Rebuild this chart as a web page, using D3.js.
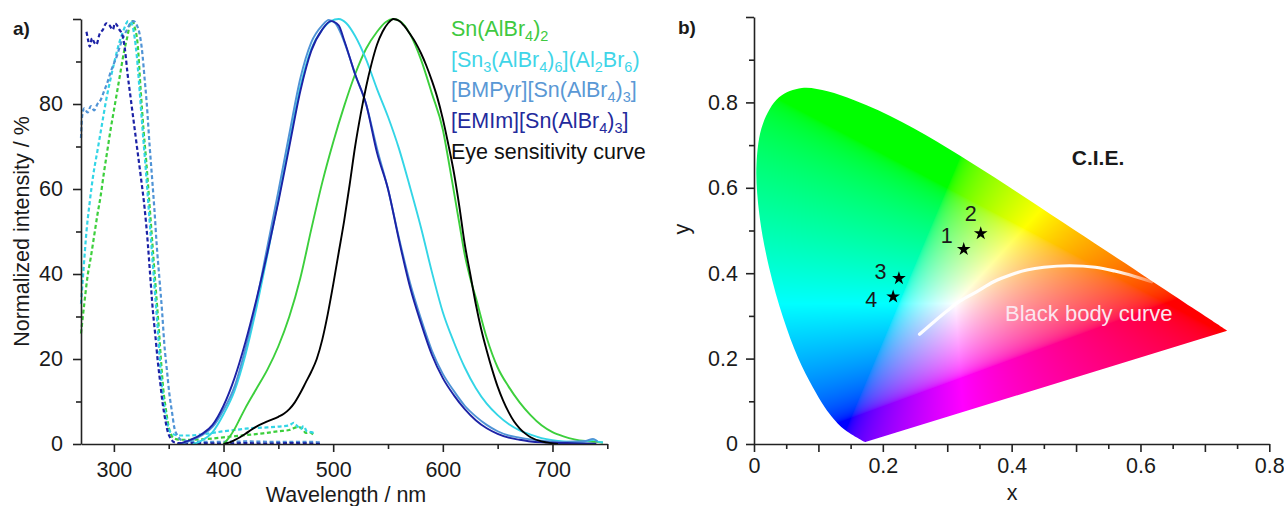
<!DOCTYPE html>
<html><head><meta charset="utf-8">
<script src="https://cdn.jsdelivr.net/npm/d3@7"></script>
<style>
body{margin:0;background:#fff}
svg{display:block}
text{font-family:"Liberation Sans",Arial,Helvetica,sans-serif;fill:#1a1a1a}
</style></head>
<body><svg id="c" width="1284" height="506"></svg>
<script>
// ---------- Panel a data: [wavelength nm, normalized intensity %] ----------
const emSnAlBr4 = [[400,0],[405,1.5],[410,3.5],[415,6],[420,8.5],[430,13],[440,17.5],[450,23],[460,30],[470,39],[480,50.5],[490,61.5],[500,71],[510,79.5],[520,87],[530,93],[540,97],[548,99.3],[555,100],[562,99.3],[570,96.5],[580,90.5],[590,82.5],[600,74],[605,67],[610,59.5],[615,52],[620,44.5],[625,39],[630,34.5],[640,25],[650,18],[660,13.5],[670,9.8],[680,6.8],[690,4.4],[700,2.8],[710,1.8],[720,1.1],[730,0.7],[740,0.5],[746,0.3]];
const emSn3 = [[372,0],[380,0.8],[390,2.8],[400,7],[410,12.5],[420,21],[430,32],[440,44.5],[450,57.5],[460,71],[470,84],[480,93],[490,97.5],[498,99.5],[505,100],[512,99],[520,96],[530,90.5],[540,83.5],[550,77],[560,69.5],[570,60.5],[580,51],[590,40.5],[600,31],[610,24],[620,18],[630,13.2],[640,9.5],[650,6.8],[660,4.7],[670,3.2],[680,2.2],[690,1.4],[700,0.9],[710,0.6],[720,0.5],[730,0.6],[738,1],[742,0.5],[746,0.4]];
const emBMPyr = [[362,0],[370,0.8],[380,2],[390,4],[400,8],[410,13.5],[420,22.5],[430,33.5],[440,46.5],[450,59.5],[460,73],[470,86],[480,94.5],[490,98.5],[496,99.8],[502,99],[508,96],[515,91],[520,87],[530,80],[540,69.5],[550,60],[560,48.5],[570,38],[580,29.5],[590,22],[600,16.5],[610,12.5],[620,9],[630,6.5],[640,4.5],[650,3],[660,2],[670,1.5],[680,1.1],[690,0.8],[700,0.6],[710,0.5],[720,0.6],[730,0.7],[737,1.2],[741,0.6]];
const emEMIm = [[358,0],[365,0.5],[370,1],[380,2.3],[390,4.5],[400,9],[410,15.5],[420,24],[430,34],[440,45],[450,57],[460,70],[470,83],[480,92.5],[490,97.5],[498,99.5],[505,98.5],[510,95],[520,87],[530,80],[540,68.5],[550,60],[560,48],[570,37],[580,28.5],[590,21],[600,15.5],[610,11.5],[620,8.2],[630,5.6],[640,3.7],[650,2.4],[660,1.5],[670,1],[680,0.6],[690,0.4],[700,0.3],[720,0.2],[740,0.1]];
const eyeCurve = [[400,0],[405,0.3],[410,0.9],[415,1.6],[420,2.4],[425,3.3],[430,4.1],[440,5.3],[450,6.4],[455,7.1],[460,8.2],[465,9.8],[470,12],[475,14.5],[480,17],[485,20],[490,24.5],[495,30.5],[500,37.5],[505,45],[510,52.5],[515,61],[520,70],[525,77.5],[530,84],[535,89.5],[540,94],[545,97],[550,99],[555,100],[560,99.6],[565,98.3],[570,96.5],[575,94.5],[580,92],[585,89],[590,85.5],[595,81.5],[600,76.5],[605,70.5],[610,64],[615,56],[620,47],[625,40],[630,33],[635,27],[640,22],[645,17.5],[650,13.5],[655,10.2],[660,7.5],[665,5.3],[670,3.7],[675,2.5],[680,1.6],[690,0.6],[700,0.15],[705,0]];
const exSnAlBr4 = [[270,26],[273,33],[276,39.5],[279,44],[282,49],[285,54],[288,58.5],[291,64],[294,69],[297,74],[300,78.5],[303,83],[306,87.5],[309,92],[312,95.5],[315,99],[317,99.5],[319,98],[321.5,94.5],[324.5,83],[327,74],[329.5,66.5],[332,58],[334,51],[336,44],[338.5,35.5],[341,27],[343,19.5],[345,13],[347.5,8],[350,4],[352,2.3],[355,1.3],[360,1],[370,1],[380,1.1],[390,1.3],[405,1.7],[420,2.1],[436,2.5],[450,3],[460,3.3],[468,4],[472,3.6],[475,2.6],[478,2.8],[482,2.2]];
const exSn3 = [[270,33],[272,40],[275,50],[278,57],[281,63],[285,69],[289,75],[293,81],[297,86],[301,90.5],[305,94.5],[309,97.5],[313,99.5],[316,99],[319,95.5],[321,91],[323.5,83],[326,74.5],[328.5,66.5],[331,58],[333,51],[335,44],[337.5,35.5],[340,27],[342,19.5],[344,13],[346.5,8],[349,4.5],[351,3],[354,2.3],[360,2],[370,2],[380,2.3],[390,2.6],[400,3],[410,3.3],[420,3.6],[430,3.8],[440,3.9],[450,4.1],[460,4.4],[464,5],[467,4.3],[470,3.5],[473,4.2],[476,3],[480,2.8],[483,2.5]];
const exBMPyr = [[270,72],[271,77],[273,79],[276,78],[279,79.5],[282,78.5],[285,80],[288,81],[291,83],[294,85],[297,87.5],[300,89.5],[303,91.5],[306,94],[309,96],[312,97.5],[315,99],[318,99.5],[321,98.5],[323,97],[325.5,93],[328,86],[330,80],[332.5,70.5],[335,62],[337,55],[339,47],[341.5,39],[344,31],[346,23.5],[348.5,17],[350.5,12],[353,7.5],[355,4],[358,2],[361,1],[370,0.6],[390,0.5],[420,0.6],[450,0.5],[480,0.5],[490,0.3]];
const exEMIm = [[275,97],[276.5,95],[278,93.5],[280,95.5],[282,94.5],[284,94],[287,96.5],[290,97.5],[293,99],[296,98.5],[299,97.5],[301,99],[305,97.5],[308,96],[310,93],[312.5,87],[315,82],[318.5,75],[321,70],[324.5,63],[328,55.5],[331,47],[333,40],[335.5,31.5],[338,25],[340,19.5],[342,15],[344.5,9.5],[347,5.5],[349,3],[352,1.2],[355,0.4],[360,0.2],[380,0.2],[400,0.1],[420,0.2],[440,0.1],[460,0.2],[480,0.1],[490,0]];

const wlTicks = [300,350,400,450,500,550,600,650,700,750];
const intTicks = [0,10,20,30,40,50,60,70,80,90,100];

// legend labels: segments [text, isSubscript]
const legendLabels = [
  [["Sn(AlBr",0],["4",1],[")",0],["2",1]],
  [["[Sn",0],["3",1],["(AlBr",0],["4",1],[")",0],["6",1],["](Al",0],["2",1],["Br",0],["6",1],[")",0]],
  [["[BMPyr][Sn(AlBr",0],["4",1],[")",0],["3",1],["]",0]],
  [["[EMIm][Sn(AlBr",0],["4",1],[")",0],["3",1],["]",0]],
  [["Eye sensitivity curve",0]]
];

// ---------- Panel b data ----------
// CIE 1931 spectral locus (x, y)
const locusX = [0.1741,0.1738,0.1733,0.1726,0.1714,0.1703,0.1689,0.1669,0.1644,0.1611,0.1566,0.1510,0.1440,0.1355,0.1241,0.1096,0.0913,0.0687,0.0454,0.0235,0.0082,0.0039,0.0139,0.0389,0.0743,0.1142,0.1547,0.1929,0.2296,0.2658,0.3016,0.3373,0.3731,0.4087,0.4441,0.4788,0.5125,0.5448,0.5752,0.6029,0.6270,0.6482,0.6658,0.6801,0.6915,0.7006,0.7079,0.7140,0.7190,0.7230,0.7260,0.7283,0.7300,0.7311,0.7320,0.7334,0.7347];
const locusY = [0.0050,0.0049,0.0048,0.0048,0.0051,0.0058,0.0069,0.0086,0.0109,0.0138,0.0177,0.0227,0.0297,0.0399,0.0578,0.0868,0.1327,0.2007,0.2950,0.4127,0.5384,0.6548,0.7502,0.8120,0.8338,0.8262,0.8059,0.7816,0.7543,0.7243,0.6923,0.6589,0.6245,0.5896,0.5547,0.5202,0.4866,0.4544,0.4242,0.3965,0.3725,0.3514,0.3340,0.3197,0.3083,0.2993,0.2920,0.2859,0.2809,0.2770,0.2740,0.2717,0.2700,0.2689,0.2680,0.2666,0.2653];
// black body curve
const bbX = [0.257,0.28,0.30,0.32,0.346,0.372,0.40,0.4235,0.45,0.49,0.53,0.56,0.59,0.6175];
const bbY = [0.257,0.287,0.312,0.335,0.357,0.380,0.397,0.4075,0.414,0.4175,0.414,0.405,0.393,0.380];
// sample points
const sampleIds = ["1","2","3","4"];
const sampleX = [0.3256,0.352,0.225,0.216];
const sampleY = [0.456,0.493,0.388,0.345];
const labelOffsets = [[-17,-6],[-10,-12],[-18.5,1],[-22,10]];

const cieXTicks = d3.range(0,17).map(i=>+(i*0.05).toFixed(2));
const cieYTicks = d3.range(0,11).map(i=>+(i*0.1).toFixed(1));

// ---------- drawing ----------
const svg = d3.select("#c");
const FS = 21.5;

// Panel a
const xA = d3.scaleLinear().domain([270,750]).range([81,607.3]);
const yA = d3.scaleLinear().domain([0,100]).range([444,19]);
const lineA = d3.line().x(d=>xA(d[0])).y(d=>yA(d[1])).curve(d3.curveMonotoneX);

const colGreen="#3ccf3c", colCyan="#33d5e6", colLBlue="#4f93d6", colDBlue="#1c22a6";

const dashed = [[exSnAlBr4,colGreen],[exSn3,colCyan],[exBMPyr,colLBlue],[exEMIm,colDBlue]];
dashed.forEach(([d,c])=>{
  svg.append("path").attr("d",lineA(d)).attr("fill","none").attr("stroke",c)
    .attr("stroke-width",2.2).attr("stroke-dasharray","4,2.6");
});
const solids = [[emSnAlBr4,colGreen],[emSn3,colCyan],[emBMPyr,colLBlue],[emEMIm,colDBlue],[eyeCurve,"#000"]];
solids.forEach(([d,c])=>{
  svg.append("path").attr("d",lineA(d)).attr("fill","none").attr("stroke",c)
    .attr("stroke-width",1.9).attr("stroke-linejoin","round");
});

function styleAxis(g, minorTest, minorLen, horiz){
  g.select(".domain").attr("stroke","#222").attr("stroke-width",1.6);
  g.selectAll(".tick line").attr("stroke","#222").attr("stroke-width",1.6);
  g.selectAll(".tick").filter(minorTest).select("line").attr(horiz?"y2":"x2", minorLen);
  g.selectAll(".tick text").attr("font-size",FS).attr("fill","#1a1a1a")
   .attr("font-family","'Liberation Sans',Arial,sans-serif");
}
const gxA = svg.append("g").attr("transform","translate(0,444)")
  .call(d3.axisBottom(xA).tickValues(wlTicks).tickFormat(d=>d%100===0?d:"").tickSize(8).tickSizeOuter(0).tickPadding(9.5));
styleAxis(gxA, d=>d%100!==0, 5, true);
const gyA = svg.append("g").attr("transform","translate(81,0)")
  .call(d3.axisLeft(yA).tickValues(intTicks).tickFormat(d=>(d%20===0&&d<100)?d:"").tickSize(8).tickSizeOuter(0).tickPadding(10));
styleAxis(gyA, d=>d%20!==0, -5, false);

svg.append("text").attr("x",346).attr("y",502).attr("text-anchor","middle").attr("font-size",FS).text("Wavelength / nm");
svg.append("text").attr("transform","translate(28.7,231.5) rotate(-90)").attr("text-anchor","middle").attr("font-size",FS).text("Normalized intensity / %");
svg.append("text").attr("x",13).attr("y",35).attr("font-size",19).attr("font-weight","bold").text("a)");

// legend
const legColors = ["#40c940","#3fd5e8","#5a98d5","#232a9c","#111"];
legendLabels.forEach((segs,i)=>{
  const t = svg.append("text").attr("x",451).attr("y",36+i*30.65).attr("font-size",FS).style("fill",legColors[i]);
  segs.forEach(([s,sub])=>{
    const ts = t.append("tspan").text(s).style("fill",legColors[i]);
    if(sub){ ts.attr("font-size",14.5).attr("baseline-shift","-30%"); }
  });
});

// Panel b
const xC = d3.scaleLinear().domain([0,0.8]).range([754,1269.3]);
const yC = d3.scaleLinear().domain([0,1]).range([444,17]);

const locusPts = locusX.map((x,i)=>[x,locusY[i]]);
const lineC = d3.line().x(d=>xC(d[0])).y(d=>yC(d[1])).curve(d3.curveCatmullRom.alpha(0.5));
const defs = svg.append("defs");
defs.append("clipPath").attr("id","locusClip").append("path").attr("d",lineC(locusPts)+"Z");

// colour field
const x0 = Math.floor(xC(0)), x1 = Math.ceil(xC(0.75));
const y0 = Math.floor(yC(0.85)), y1 = Math.ceil(yC(0));
const cw = x1-x0, ch = y1-y0;
const canvas = document.createElement("canvas");
canvas.width = cw; canvas.height = ch;
const ctx = canvas.getContext("2d");
const img = ctx.createImageData(cw,ch);
function gam(v){ return v<=0.0031308 ? 12.92*v : 1.055*Math.pow(v,1/2.4)-0.055; }
for(let j=0;j<ch;j++){
  const cy = Math.max(yC.invert(y0+j+0.5), 0.003);
  for(let i=0;i<cw;i++){
    const cx = xC.invert(x0+i+0.5);
    const X = cx/cy, Y = 1, Z = (1-cx-cy)/cy;
    let r = 3.2406*X-1.5372*Y-0.4986*Z, g = -0.9689*X+1.8758*Y+0.0415*Z, b = 0.0557*X-0.2040*Y+1.0570*Z;
    r=Math.max(r,0); g=Math.max(g,0); b=Math.max(b,0);
    const m = Math.max(r,g,b,1e-6);
    const k = 4*(j*cw+i);
    img.data[k]=Math.round(255*gam(r/m)); img.data[k+1]=Math.round(255*gam(g/m)); img.data[k+2]=Math.round(255*gam(b/m)); img.data[k+3]=255;
  }
}
ctx.putImageData(img,0,0);
svg.append("image").attr("x",x0).attr("y",y0).attr("width",cw).attr("height",ch)
  .attr("preserveAspectRatio","none").attr("href",canvas.toDataURL())
  .attr("clip-path","url(#locusClip)");

// black body curve
const bbPts = bbX.map((x,i)=>[x,bbY[i]]);
const grad = defs.append("linearGradient").attr("id","bbGrad").attr("gradientUnits","userSpaceOnUse")
  .attr("x1",xC(bbX[0])).attr("x2",xC(bbX[bbX.length-1])).attr("y1",0).attr("y2",0);
grad.append("stop").attr("offset","0").attr("stop-color","#fff").attr("stop-opacity",0.95);
grad.append("stop").attr("offset","0.85").attr("stop-color","#fff").attr("stop-opacity",0.95);
grad.append("stop").attr("offset","1").attr("stop-color","#fff").attr("stop-opacity",0.3);
svg.append("path").attr("d",d3.line().x(d=>xC(d[0])).y(d=>yC(d[1])).curve(d3.curveCatmullRom)(bbPts))
  .attr("fill","none").attr("stroke","url(#bbGrad)").attr("stroke-width",3.2).attr("stroke-linecap","round");
svg.append("text").attr("x",1005).attr("y",321).attr("font-size",22).style("fill","#fbe6ef").text("Black body curve");

// stars
sampleIds.forEach((id,i)=>{
  const cx = xC(sampleX[i]), cy = yC(sampleY[i]);
  svg.append("path").attr("d",d3.symbol(d3.symbolStar).size(58)()).attr("transform",`translate(${cx},${cy})`).attr("fill","#000");
  svg.append("text").attr("x",cx+labelOffsets[i][0]).attr("y",cy+labelOffsets[i][1]).attr("text-anchor","middle").attr("font-size",FS).text(id);
});

svg.append("text").attr("x",1098).attr("y",165).attr("text-anchor","middle").attr("font-size",21).attr("font-weight","bold").text("C.I.E.");

const gxC = svg.append("g").attr("transform","translate(0,444)")
  .call(d3.axisBottom(xC).tickValues(cieXTicks).tickFormat(d=>Math.abs(d/0.2-Math.round(d/0.2))<1e-6?(d===0?"0":d3.format(".1f")(d)):"").tickSize(8).tickSizeOuter(0).tickPadding(6));
styleAxis(gxC, d=>Math.abs(d/0.1-Math.round(d/0.1))>1e-6, 5, true);
const gyC = svg.append("g").attr("transform","translate(754,0)")
  .call(d3.axisLeft(yC).tickValues(cieYTicks).tickFormat(d=>(Math.abs(d/0.2-Math.round(d/0.2))<1e-6&&d<1)?(d===0?"0":d3.format(".1f")(d)):"").tickSize(8).tickSizeOuter(0).tickPadding(8));
styleAxis(gyC, d=>Math.abs(d/0.2-Math.round(d/0.2))>1e-6, -5, false);

svg.append("text").attr("x",1012).attr("y",500).attr("text-anchor","middle").attr("font-size",FS).text("x");
svg.append("text").attr("transform","translate(689,229) rotate(-90)").attr("text-anchor","middle").attr("font-size",FS).text("y");
svg.append("text").attr("x",678).attr("y",34).attr("font-size",19).attr("font-weight","bold").text("b)");
</script></body></html>
